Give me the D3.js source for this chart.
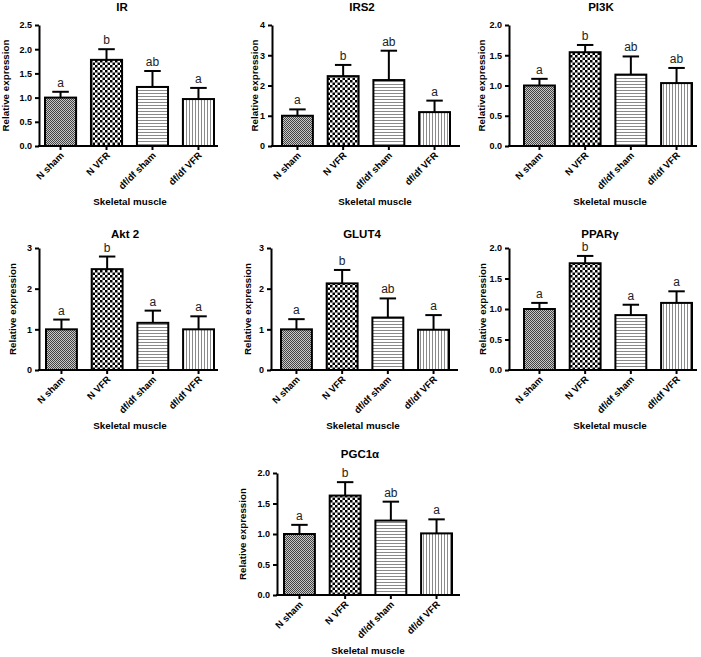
<!DOCTYPE html>
<html>
<head>
<meta charset="utf-8">
<script src="https://cdn.jsdelivr.net/npm/d3@7"></script>
<style>
  html, body { margin: 0; padding: 0; background: #fff; }
  svg text { font-family: "Liberation Sans", Arial, Helvetica, sans-serif; }
</style>
</head>
<body>
<svg id="chart" width="701" height="657"></svg>
<script>
// ---------------- DATA ----------------
const groups = ["N sham", "N VFR", "df/df sham", "df/df VFR"];
const titles = ["IR", "IRS2", "PI3K", "Akt 2", "GLUT4", "PPARγ", "PGC1α"];
const xAxisTitle = "Skeletal muscle";
const yAxisTitle = "Relative expression";

const irMeans    = [1.00, 1.78, 1.22, 0.97];
const irErr      = [0.12, 0.22, 0.33, 0.23];
const irLetters  = ["a", "b", "ab", "a"];

const irs2Means   = [1.00, 2.31, 2.18, 1.12];
const irs2Err     = [0.21, 0.37, 0.97, 0.38];
const irs2Letters = ["a", "b", "ab", "a"];

const pi3kMeans   = [1.00, 1.55, 1.18, 1.04];
const pi3kErr     = [0.11, 0.12, 0.30, 0.25];
const pi3kLetters = ["a", "b", "ab", "ab"];

const akt2Means   = [1.00, 2.48, 1.16, 1.00];
const akt2Err     = [0.24, 0.31, 0.30, 0.32];
const akt2Letters = ["a", "b", "a", "a"];

const glut4Means   = [1.00, 2.13, 1.29, 0.99];
const glut4Err     = [0.25, 0.33, 0.47, 0.36];
const glut4Letters = ["a", "b", "ab", "a"];

const pparMeans   = [1.00, 1.75, 0.90, 1.10];
const pparErr     = [0.10, 0.12, 0.17, 0.19];
const pparLetters = ["a", "b", "a", "a"];

const pgcMeans   = [1.00, 1.63, 1.22, 1.01];
const pgcErr     = [0.15, 0.22, 0.31, 0.23];
const pgcLetters = ["a", "b", "ab", "a"];

const yMax   = [2.5, 4, 2.0, 3, 3, 2.0, 2.0];
const yStep  = [0.5, 1, 0.5, 1, 1, 0.5, 0.5];

const seriesMeans   = [irMeans, irs2Means, pi3kMeans, akt2Means, glut4Means, pparMeans, pgcMeans];
const seriesErr     = [irErr, irs2Err, pi3kErr, akt2Err, glut4Err, pparErr, pgcErr];
const seriesLetters = [irLetters, irs2Letters, pi3kLetters, akt2Letters, glut4Letters, pparLetters, pgcLetters];

// ---------------- LAYOUT ----------------
const layout = [
  {ax: 39,  right: 218, top: 25,  bottom: 146, b0: 44,  b1: 215, tx: 122, ty: 11,  lx: 6,   sx: 130, sy: 205},
  {ax: 272, right: 460, top: 25,  bottom: 146, b0: 281, b1: 451, tx: 362, ty: 11,  lx: 255, sx: 375, sy: 205},
  {ax: 509, right: 697, top: 25,  bottom: 146, b0: 523, b1: 693, tx: 601, ty: 11,  lx: 482, sx: 610, sy: 205},
  {ax: 39,  right: 218, top: 248, bottom: 370, b0: 45,  b1: 215, tx: 125, ty: 238, lx: 13,  sx: 130, sy: 429},
  {ax: 271, right: 458, top: 248, bottom: 370, b0: 280, b1: 450, tx: 362, ty: 238, lx: 248, sx: 363, sy: 429},
  {ax: 509, right: 697, top: 248, bottom: 370, b0: 523, b1: 693, tx: 600, ty: 238, lx: 483, sx: 610, sy: 429},
  {ax: 277, right: 460, top: 473, bottom: 595, b0: 283, b1: 453, tx: 360, ty: 458, lx: 243, sx: 368, sy: 654}
];

const svg = d3.select("#chart");

// ---------------- PATTERNS ----------------
const defs = svg.append("defs");
// N sham: fine gray checker
const p0 = defs.append("pattern").attr("id", "pat0").attr("patternUnits", "userSpaceOnUse").attr("width", 2).attr("height", 2);
p0.append("rect").attr("width", 2).attr("height", 2).attr("fill", "#c8c8c8");
p0.append("rect").attr("x", 0).attr("y", 0).attr("width", 1).attr("height", 1).attr("fill", "#444");
p0.append("rect").attr("x", 1).attr("y", 1).attr("width", 1).attr("height", 1).attr("fill", "#444");
// N VFR: coarse black/white checker
const p1 = defs.append("pattern").attr("id", "pat1").attr("patternUnits", "userSpaceOnUse").attr("width", 5).attr("height", 5);
p1.append("rect").attr("width", 5).attr("height", 5).attr("fill", "#ffffff");
p1.append("rect").attr("x", 0).attr("y", 0).attr("width", 2.5).attr("height", 2.5).attr("fill", "#000");
p1.append("rect").attr("x", 2.5).attr("y", 2.5).attr("width", 2.5).attr("height", 2.5).attr("fill", "#000");
// df/df sham: horizontal lines
const p2 = defs.append("pattern").attr("id", "pat2").attr("patternUnits", "userSpaceOnUse").attr("width", 4).attr("height", 3);
p2.append("rect").attr("width", 4).attr("height", 3).attr("fill", "#ffffff");
p2.append("rect").attr("x", 0).attr("y", 0).attr("width", 4).attr("height", 1).attr("fill", "#8a8a8a");
// df/df VFR: vertical lines
const p3 = defs.append("pattern").attr("id", "pat3").attr("patternUnits", "userSpaceOnUse").attr("width", 3).attr("height", 4);
p3.append("rect").attr("width", 3).attr("height", 4).attr("fill", "#ffffff");
p3.append("rect").attr("x", 0).attr("y", 0).attr("width", 1).attr("height", 4).attr("fill", "#8a8a8a");

const patFill = d3.scaleOrdinal().domain(groups).range(["url(#pat0)", "url(#pat1)", "url(#pat2)", "url(#pat3)"]);

// ---------------- PANELS ----------------
titles.forEach((title, i) => {
  const L = layout[i];
  const means = seriesMeans[i], errs = seriesErr[i], letters = seriesLetters[i];
  const rows = groups.map((g, j) => ({group: g, mean: means[j], err: errs[j], letter: letters[j]}));

  const y = d3.scaleLinear().domain([0, yMax[i]]).range([L.bottom, L.top]);
  const x = d3.scaleBand().domain(groups).range([L.b0, L.b1]).paddingInner(0.28).paddingOuter(0);
  const bw = x.bandwidth();

  const g = svg.append("g");

  // title
  g.append("text").attr("x", L.tx).attr("y", L.ty).attr("text-anchor", "middle")
    .attr("font-size", 11.5).attr("font-weight", "bold").text(title);

  // bars
  g.selectAll("rect.bar").data(rows).join("rect").attr("class", "bar")
    .attr("x", d => x(d.group) + 1)
    .attr("y", d => y(d.mean))
    .attr("width", bw - 2)
    .attr("height", d => y(0) - y(d.mean))
    .attr("fill", d => patFill(d.group))
    .attr("stroke", "#000").attr("stroke-width", 2);

  // error bars (upper only)
  g.selectAll("line.err").data(rows).join("line").attr("class", "err")
    .attr("x1", d => x(d.group) + bw / 2).attr("x2", d => x(d.group) + bw / 2)
    .attr("y1", d => y(d.mean)).attr("y2", d => y(d.mean + d.err))
    .attr("stroke", "#000").attr("stroke-width", 2);
  g.selectAll("line.cap").data(rows).join("line").attr("class", "cap")
    .attr("x1", d => x(d.group) + bw / 4).attr("x2", d => x(d.group) + bw * 3 / 4)
    .attr("y1", d => y(d.mean + d.err)).attr("y2", d => y(d.mean + d.err))
    .attr("stroke", "#000").attr("stroke-width", 2);

  // significance letters
  g.selectAll("text.sig").data(rows).join("text").attr("class", "sig")
    .attr("x", d => x(d.group) + bw / 2)
    .attr("y", d => y(d.mean + d.err) - 5)
    .attr("text-anchor", "middle").attr("font-size", 12).attr("fill", "#222")
    .text(d => d.letter);

  // y axis
  const ticks = d3.range(0, yMax[i] + 1e-9, yStep[i]);
  const fmt = yStep[i] < 1 ? d3.format(".1f") : d3.format("d");
  const ya = g.append("g").attr("transform", `translate(${L.ax},0)`)
    .call(d3.axisLeft(y).tickValues(ticks).tickFormat(fmt).tickSize(4).tickSizeOuter(0).tickPadding(3));
  ya.select(".domain").attr("stroke-width", 2).attr("stroke", "#000");
  ya.selectAll(".tick line").attr("stroke-width", 2).attr("stroke", "#000");
  ya.selectAll(".tick text").attr("font-size", 9).attr("font-weight", "bold").attr("fill", "#000")
    .attr("font-family", "Liberation Sans, Arial, sans-serif");

  // x axis
  g.append("line").attr("x1", L.ax - 1).attr("x2", L.right).attr("y1", L.bottom).attr("y2", L.bottom)
    .attr("stroke", "#000").attr("stroke-width", 2);
  const xa = g.append("g").attr("transform", `translate(0,${L.bottom})`)
    .call(d3.axisBottom(x).tickSize(4).tickSizeOuter(0));
  xa.select(".domain").remove();
  xa.selectAll(".tick line").attr("stroke-width", 2).attr("stroke", "#000");
  xa.selectAll(".tick text")
    .attr("font-size", 9.5).attr("font-weight", "bold").attr("fill", "#000")
    .attr("font-family", "Liberation Sans, Arial, sans-serif")
    .attr("text-anchor", "end")
    .attr("dy", null).attr("y", 0)
    .attr("transform", "translate(4,10) rotate(-45)");

  // y axis title
  g.append("text")
    .attr("transform", `translate(${L.lx},${(L.top + L.bottom) / 2}) rotate(-90)`)
    .attr("dy", "0.35em").attr("text-anchor", "middle")
    .attr("font-size", 9.8).attr("font-weight", "bold").text(yAxisTitle);

  // x axis title
  g.append("text").attr("x", L.sx).attr("y", L.sy).attr("text-anchor", "middle")
    .attr("font-size", 9.8).attr("font-weight", "bold").text(xAxisTitle);
});
</script>
</body>
</html>
